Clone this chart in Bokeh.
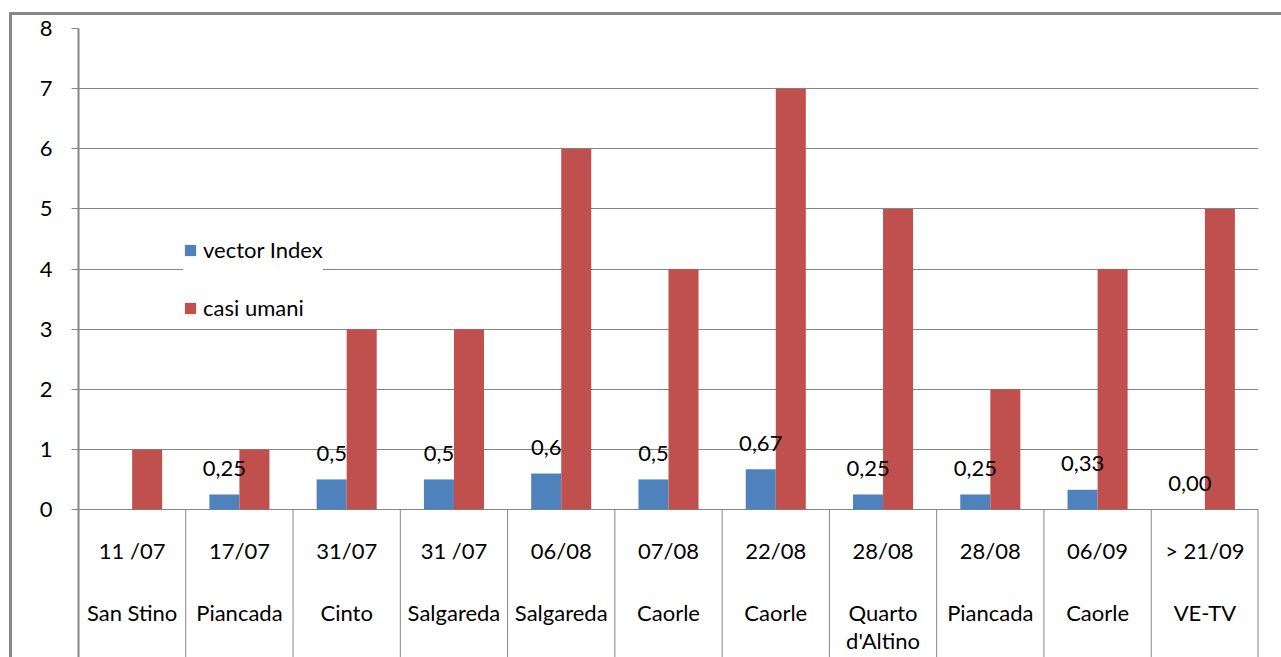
from bokeh.plotting import figure
from bokeh.models import (ColumnDataSource, FactorRange, Range1d, FixedTicker,
                          Legend, LegendItem)
from bokeh.transform import dodge
from bokeh.core.properties import value
from bokeh.embed import file_html
from bokeh.resources import INLINE

# ---- data ----
dates = ["11 /07", "17/07", "31/07", "31 /07", "06/08", "07/08", "22/08",
         "28/08", "28/08", "06/09", "> 21/09"]
places = ["San Stino", "Piancada", "Cinto", "Salgareda", "Salgareda", "Caorle",
          "Caorle", "Quarto", "Piancada", "Caorle", "VE-TV"]
places_line2 = ["", "", "", "", "", "", "", "d'Altino", "", "", ""]
vector_index = [0, 0.25, 0.5, 0.5, 0.6, 0.5, 0.67, 0.25, 0.25, 0.33, 0.0]
casi_umani = [1, 1, 3, 3, 6, 4, 7, 5, 2, 4, 5]
vector_labels = ["", "0,25", "0,5", "0,5", "0,6", "0,5", "0,67", "0,25", "0,25", "0,33", "0,00"]
y_ticks = [0, 1, 2, 3, 4, 5, 6, 7, 8]

keys = [f"{d}|{p}|{i}" for i, (d, p) in enumerate(zip(dates, places))]

FONT = "Lato"
FS = "22px"
GREY = "#868686"
BLUE = "#4F81BD"
RED = "#C0504D"

src = ColumnDataSource(dict(key=keys, date=dates, place=places, place2=places_line2,
                            vi=vector_index, cu=casi_umani, lab=vector_labels))

W, H = 1281, 657
p = figure(width=W, height=H, output_backend="svg", toolbar_location=None,
           x_range=FactorRange(factors=keys, range_padding=0),
           y_range=Range1d(-(H - 509) / 60.125, 8),
           x_axis_location=None,
           min_border_left=78, min_border_right=23, min_border_top=28,
           min_border_bottom=0)
# outer chart border (left and top) painted as CSS background behind a transparent border area
p.styles = {"background": "linear-gradient(#888888,#888888) 9px 12px / 3px 645px no-repeat, "
                          "linear-gradient(#888888,#888888) 9px 12px / 1272px 3px no-repeat, "
                          "#ffffff"}
p.outline_line_color = None
p.background_fill_color = "white"
p.border_fill_alpha = 0

p.xgrid.grid_line_color = None
p.ygrid.grid_line_color = GREY
p.ygrid.grid_line_width = 1
p.ygrid.ticker = FixedTicker(ticks=y_ticks)

yax = p.yaxis[0]
yax.ticker = FixedTicker(ticks=y_ticks)
yax.axis_line_color = GREY
yax.axis_line_width = 2
yax.major_tick_line_color = GREY
yax.major_tick_line_width = 1
yax.major_tick_out = 7
yax.major_tick_in = 0
yax.minor_tick_line_color = None
yax.major_label_standoff = 19
yax.major_label_text_font = FONT
yax.major_label_text_font_size = FS
yax.major_label_text_color = "#000000"

# bars
b1 = p.vbar(x=dodge("key", -0.14, range=p.x_range), top="vi", width=0.28, bottom=0,
            source=src, fill_color=BLUE, line_color=None)
b2 = p.vbar(x=dodge("key", 0.14, range=p.x_range), top="cu", width=0.28, bottom=0,
            source=src, fill_color=RED, line_color=None)

# value labels for vector index
p.text(x=dodge("key", -0.14, range=p.x_range), y="vi", text="lab", source=src,
       text_align="center", text_baseline="middle", y_offset=-26,
       text_font=value(FONT), text_font_size=FS, text_color="#000000")

# category table separators
p.segment(x0=dodge("key", -0.5, range=p.x_range), x1=dodge("key", -0.5, range=p.x_range),
          y0=0, y1=-3, source=src, line_color=GREY, line_width=1)
last = ColumnDataSource(dict(key=[keys[-1]]))
p.segment(x0=dodge("key", 0.5, range=p.x_range), x1=dodge("key", 0.5, range=p.x_range),
          y0=0, y1=-3, source=last, line_color=GREY, line_width=2)

# category texts
for col, off in (("date", -41), ("place", -103), ("place2", -131)):
    p.text(x="key", y=off / 60.125, text=col, source=src, text_align="center",
           text_baseline="middle", text_font=value(FONT), text_font_size=FS,
           text_color="#000000")

# legend
legend = Legend(items=[LegendItem(label="vector Index", renderers=[b1]),
                       LegendItem(label="casi umani", renderers=[b2])],
                location=(105, 336), orientation="vertical",
                background_fill_color="white", background_fill_alpha=1,
                border_line_color=None, padding=12, margin=0,
                glyph_width=14, glyph_height=14, label_height=24, spacing=31,
                label_standoff=6, label_text_font=FONT, label_text_font_size=FS,
                label_text_color="#000000")
p.add_layout(legend, "center")

html = file_html(p, INLINE)
html = html.replace("<head>", "<head><style>html,body{margin:0;padding:0;overflow:hidden;}</style>", 1)
open("out.html", "w").write(html)
